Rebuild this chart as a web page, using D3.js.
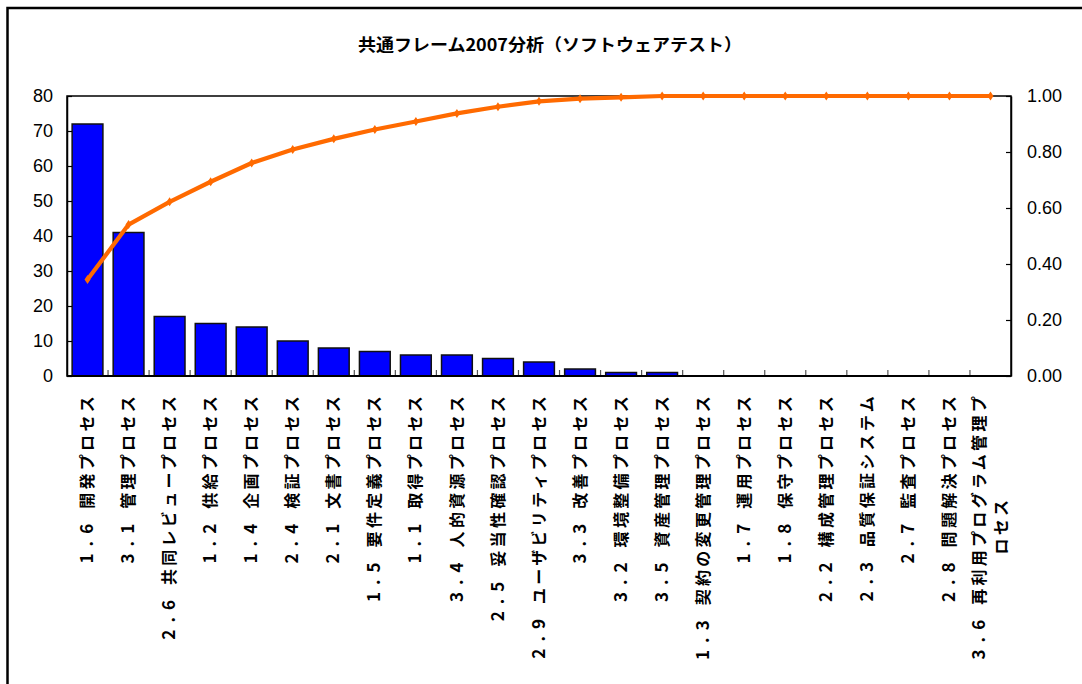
<!DOCTYPE html>
<html>
<head>
<meta charset="utf-8">
<script src="https://cdn.jsdelivr.net/npm/d3@7"></script>
<style>
  html, body { margin: 0; padding: 0; background: #fff; }
  svg { display: block; }
</style>
</head>
<body>
<svg id="chart" width="1082" height="684"></svg>
<script>
// Process categories (sorted by count) and their counts
const categories = [
  "1.6　開発プロセス", "3.1　管理プロセス", "2.6　共同レビュープロセス", "1.2　供給プロセス",
  "1.4　企画プロセス", "2.4　検証プロセス", "2.1　文書プロセス", "1.5　要件定義プロセス",
  "1.1　取得プロセス", "3.4　人的資源プロセス", "2.5　妥当性確認プロセス", "2.9　ユーザビリティプロセス",
  "3.3　改善プロセス", "3.2　環境整備プロセス", "3.5　資産管理プロセス", "1.3　契約の変更管理プロセス",
  "1.7　運用プロセス", "1.8　保守プロセス", "2.2　構成管理プロセス", "2.3　品質保証システム",
  "2.7　監査プロセス", "2.8　問題解決プロセス", "3.6　再利用プログラム管理プロセス"
];
const counts = [72, 41, 17, 15, 14, 10, 8, 7, 6, 6, 5, 4, 2, 1, 1, 0, 0, 0, 0, 0, 0, 0, 0];
const leftTicks = [0, 10, 20, 30, 40, 50, 60, 70, 80];
const rightTicks = [0, 0.2, 0.4, 0.6, 0.8, 1.0];
const title = "共通フレーム2007分析（ソフトウェアテスト）";

// Cumulative share for the Pareto line
const total = d3.sum(counts);
const cumulative = d3.cumsum(counts).map(v => v / total);

const svg = d3.select("#chart");
const plot = { left: 67, right: 1011, top: 96, bottom: 376 };

// Outer chart frame
svg.append("rect")
  .attr("x", 7.5).attr("y", 8).attr("width", 1200).attr("height", 800)
  .attr("fill", "none").attr("stroke", "#000").attr("stroke-width", 2.5);

// Title
svg.append("text")
  .attr("x", 550).attr("y", 51)
  .attr("text-anchor", "middle")
  .attr("font-family", "'Noto Sans CJK JP', sans-serif")
  .attr("font-weight", "bold")
  .attr("font-size", 17)
  .attr("textLength", 384)
  .attr("lengthAdjust", "spacingAndGlyphs")
  .text(title);

const x = d3.scaleBand()
  .domain(categories)
  .range([plot.left, plot.right])
  .paddingInner(0.25)
  .paddingOuter(0.125);

const step = x.step();

const yL = d3.scaleLinear().domain([0, 80]).range([plot.bottom, plot.top]);
const yR = d3.scaleLinear().domain([0, 1]).range([plot.bottom, plot.top]);

// Plot area border
svg.append("rect")
  .attr("x", plot.left).attr("y", plot.top)
  .attr("width", plot.right - plot.left).attr("height", plot.bottom - plot.top)
  .attr("fill", "none").attr("stroke", "#000").attr("stroke-width", 1.5);

// Bars
svg.append("g").selectAll("rect")
  .data(counts)
  .join("rect")
  .attr("x", (d, i) => x(categories[i]))
  .attr("width", x.bandwidth())
  .attr("y", d => yL(d))
  .attr("height", d => yL(0) - yL(d))
  .attr("fill", "#0000ff")
  .attr("stroke", "#111")
  .attr("stroke-width", 1.5);

// Category boundary ticks on the bottom axis
svg.append("g").selectAll("line")
  .data(d3.range(1, categories.length))
  .join("line")
  .attr("x1", k => plot.left + k * step)
  .attr("x2", k => plot.left + k * step)
  .attr("y1", plot.bottom)
  .attr("y2", plot.bottom - 6)
  .attr("stroke", "#555")
  .attr("stroke-width", 1.2);

// Bottom axis line
svg.append("line")
  .attr("x1", plot.left).attr("x2", plot.right)
  .attr("y1", plot.bottom).attr("y2", plot.bottom)
  .attr("stroke", "#000").attr("stroke-width", 2);

// Left axis (counts)
const leftAxis = svg.append("g")
  .attr("transform", `translate(${plot.left},0)`)
  .call(d3.axisLeft(yL).tickValues(leftTicks).tickSizeInner(-5).tickSizeOuter(0).tickPadding(14)
    .tickFormat(d3.format("d")));
leftAxis.select(".domain").attr("stroke-width", 1.5);
leftAxis.selectAll(".tick line").attr("stroke-width", 1.2);
leftAxis.selectAll("text")
  .attr("font-family", "'Liberation Sans', Arial, sans-serif")
  .attr("font-size", 18).attr("fill", "#000");

// Right axis (cumulative share)
const rightAxis = svg.append("g")
  .attr("transform", `translate(${plot.right},0)`)
  .call(d3.axisRight(yR).tickValues(rightTicks).tickSizeInner(-5).tickSizeOuter(0).tickPadding(16)
    .tickFormat(d3.format(".2f")));
rightAxis.select(".domain").attr("stroke-width", 1.5);
rightAxis.selectAll(".tick line").attr("stroke-width", 1.2);
rightAxis.selectAll("text")
  .attr("font-family", "'Liberation Sans', Arial, sans-serif")
  .attr("font-size", 18).attr("fill", "#000");

// Cumulative line with small markers
const lineGen = d3.line()
  .x((d, i) => x(categories[i]) + x.bandwidth() / 2)
  .y(d => yR(d));

svg.append("path")
  .datum(cumulative)
  .attr("d", lineGen)
  .attr("fill", "none")
  .attr("stroke", "#ff6a00")
  .attr("stroke-width", 4.2)
  .attr("stroke-linejoin", "round");

svg.append("g").selectAll("path")
  .data(cumulative)
  .join("path")
  .attr("transform", (d, i) => `translate(${x(categories[i]) + x.bandwidth() / 2},${yR(d)})`)
  .attr("d", "M0,-4.5L3,0L0,4.5L-3,0Z")
  .attr("fill", "#ff6a00");

// Rotated category labels: section number + process name.
// The longest one wraps onto a second line centred under the first.
const labelFont = "'Noto Sans CJK JP', sans-serif";
const nameSize = 16, nameSpacing = 3.3;
const numSize = 17, numSpacing = 7, numGap = 8;
const maxNameChars = 11;

function numWidth(num) {
  let w = 0;
  for (const ch of num) w += (ch === "." ? numSize * 0.28 : numSize * 0.56) + numSpacing;
  return w;
}
function nameWidth(name) {
  return Array.from(name).length * (nameSize + nameSpacing);
}

const labels = svg.append("g").selectAll("g")
  .data(categories)
  .join("g")
  .attr("transform", d => `translate(${x(d) + x.bandwidth() / 2},393) rotate(-90)`);

labels.each(function (d) {
  const g = d3.select(this);
  const [num, name] = d.split("　");
  const line1 = name.slice(0, maxNameChars);
  const rest = name.slice(maxNameChars);

  const t = g.append("text")
    .attr("x", 0)
    .attr("dy", rest ? "-0.35em" : "0.35em")
    .attr("text-anchor", "end")
    .attr("font-family", labelFont)
    .attr("font-weight", "bold")
    .attr("fill", "#000");
  t.append("tspan")
    .attr("font-size", numSize)
    .attr("letter-spacing", numSpacing + "px")
    .text(num);
  t.append("tspan")
    .attr("dx", numGap)
    .attr("font-size", nameSize)
    .attr("letter-spacing", nameSpacing + "px")
    .text(line1);

  if (rest) {
    const l1 = numWidth(num) + numGap + nameWidth(line1);
    g.append("text")
      .attr("x", -l1 / 2)
      .attr("dy", "1.05em")
      .attr("text-anchor", "middle")
      .attr("font-family", labelFont)
      .attr("font-weight", "bold")
      .attr("font-size", nameSize)
      .attr("letter-spacing", nameSpacing + "px")
      .attr("fill", "#000")
      .text(rest);
  }
});
</script>
</body>
</html>
